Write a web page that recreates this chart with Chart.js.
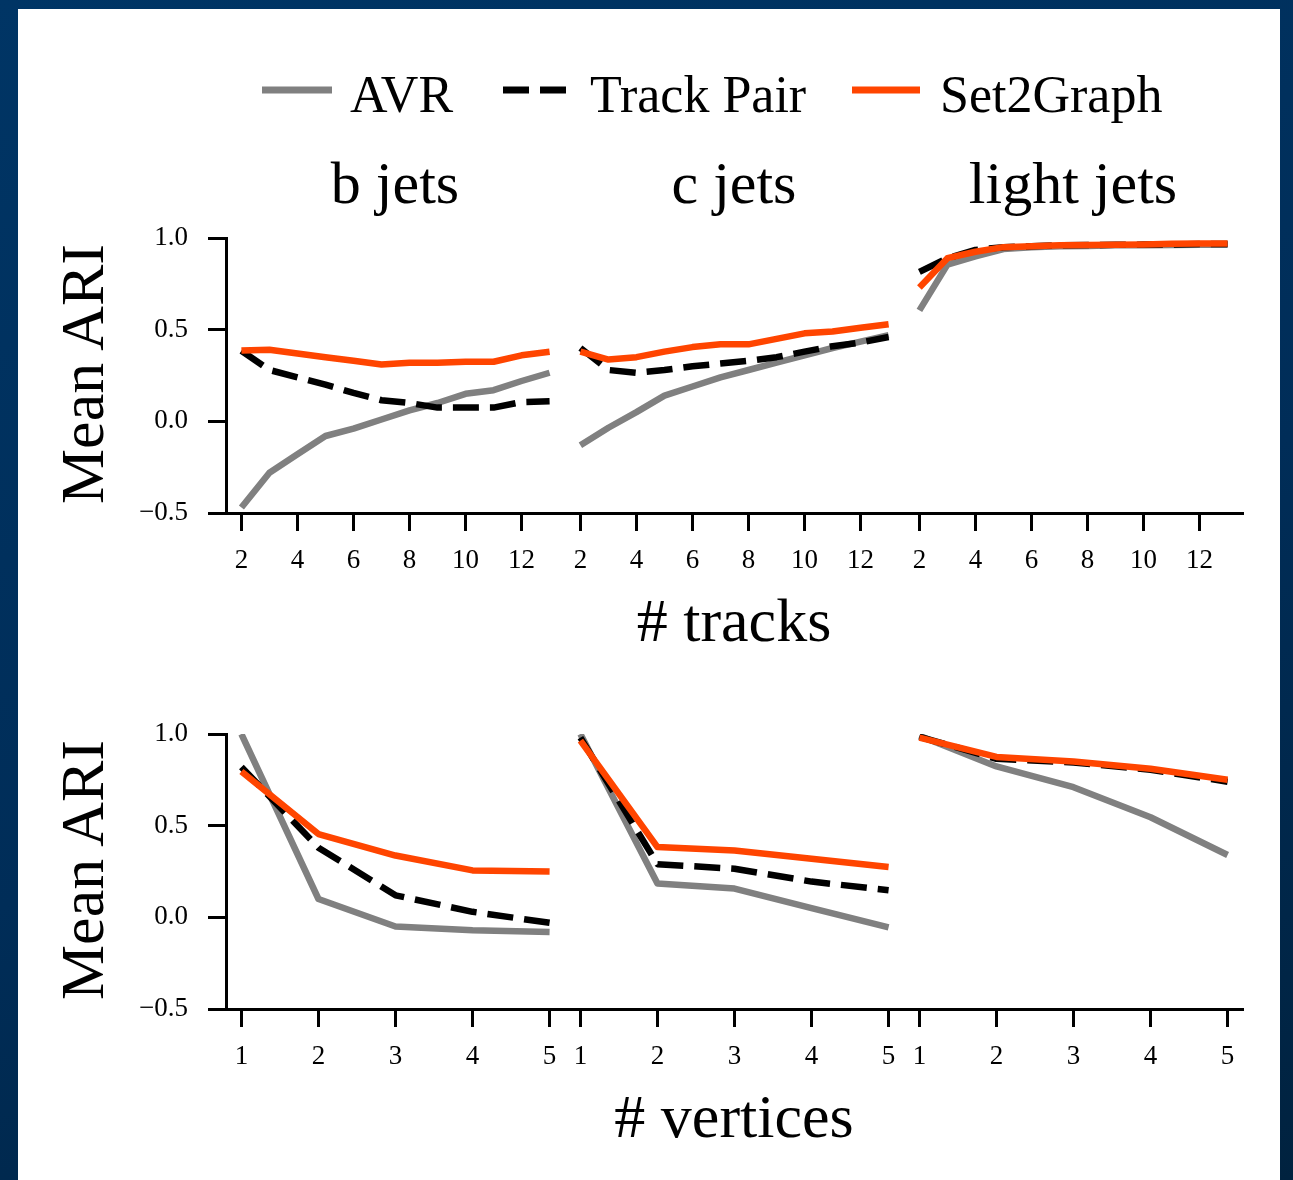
<!DOCTYPE html>
<html>
<head>
<meta charset="utf-8">
<script src="https://cdn.jsdelivr.net/npm/chart.js@4.4.1/dist/chart.umd.min.js"></script>
<style>
  html, body { margin: 0; padding: 0; }
  body {
    width: 1293px; height: 1180px; overflow: hidden; position: relative;
    background: linear-gradient(160deg, #003565 0%, #002d58 55%, #00223f 100%);
  }
  #sheet { position: absolute; left: 18px; top: 9px; width: 1262px; height: 1180px; background: #fff; }
  canvas { position: absolute; }
  #labels { position: absolute; left: 0; top: 0; }
  #labels text { font-family: 'Liberation Serif', 'Times New Roman', serif; fill: #000; }
</style>
</head>
<body>
<div id="sheet"></div>
<canvas id="tB"></canvas><canvas id="tC"></canvas><canvas id="tL"></canvas>
<canvas id="vB"></canvas><canvas id="vC"></canvas><canvas id="vL"></canvas>

<svg id="labels" width="1293" height="1180">
  <line x1="262" y1="90" x2="332" y2="90" stroke="#808080" stroke-width="7"/>
  <text x="350" y="112" font-size="52">AVR</text>
  <line x1="503" y1="90" x2="567" y2="90" stroke="#000" stroke-width="7" stroke-dasharray="26 11"/>
  <text x="590" y="112" font-size="52">Track Pair</text>
  <line x1="852" y1="90" x2="920" y2="90" stroke="#ff4500" stroke-width="7"/>
  <text x="940" y="112" font-size="52">Set2Graph</text>

  <text x="395" y="203" font-size="60" text-anchor="middle">b jets</text>
  <text x="734" y="203" font-size="60" text-anchor="middle">c jets</text>
  <text x="1073" y="203" font-size="60" text-anchor="middle">light jets</text>

  <text x="734" y="641" font-size="62" text-anchor="middle"># tracks</text>
  <text x="734" y="1137" font-size="62" text-anchor="middle"># vertices</text>
  <text transform="translate(103,374) rotate(-90)" font-size="62" text-anchor="middle">Mean ARI</text>
  <text transform="translate(103,870) rotate(-90)" font-size="62" text-anchor="middle">Mean ARI</text>
</svg>

<script>
// x values and tick positions
const trackCounts = [2, 3, 4, 5, 6, 7, 8, 9, 10, 11, 12, 13];
const vertexCounts = [1, 2, 3, 4, 5];
const trackTicks = [2, 4, 6, 8, 10, 12];
const vertexTicks = [1, 2, 3, 4, 5];
const ariTicks = [-0.5, 0.0, 0.5, 1.0];

// mean ARI vs number of tracks
const avrTracksB  = [-0.47, -0.28, -0.18, -0.08, -0.04, 0.01, 0.06, 0.10, 0.15, 0.17, 0.22, 0.265];
const pairTracksB = [0.385, 0.28, 0.24, 0.20, 0.155, 0.115, 0.10, 0.075, 0.075, 0.075, 0.105, 0.11];
const s2gTracksB  = [0.386, 0.39, 0.37, 0.35, 0.33, 0.31, 0.32, 0.32, 0.325, 0.325, 0.36, 0.38];

const avrTracksC  = [-0.13, -0.035, 0.05, 0.14, 0.19, 0.24, 0.28, 0.32, 0.36, 0.40, 0.435, 0.47];
const pairTracksC = [0.40, 0.28, 0.265, 0.28, 0.30, 0.315, 0.33, 0.35, 0.38, 0.41, 0.43, 0.46];
const s2gTracksC  = [0.38, 0.337, 0.35, 0.38, 0.405, 0.42, 0.42, 0.45, 0.48, 0.49, 0.51, 0.53];

const avrTracksL  = [0.605, 0.855, 0.90, 0.94, 0.95, 0.955, 0.957, 0.96, 0.96, 0.962, 0.963, 0.963];
const pairTracksL = [0.815, 0.89, 0.935, 0.95, 0.955, 0.96, 0.962, 0.963, 0.964, 0.965, 0.967, 0.967];
const s2gTracksL  = [0.73, 0.89, 0.925, 0.95, 0.955, 0.96, 0.962, 0.963, 0.965, 0.968, 0.97, 0.97];

// mean ARI vs number of vertices
const avrVertB  = [1.0, 0.10, -0.05, -0.07, -0.08];
const pairVertB = [0.82, 0.38, 0.12, 0.03, -0.03];
const s2gVertB  = [0.795, 0.454, 0.337, 0.256, 0.25];

const avrVertC  = [1.0, 0.184, 0.157, 0.05, -0.055];
const pairVertC = [0.98, 0.29, 0.265, 0.195, 0.148];
const s2gVertC  = [0.964, 0.383, 0.364, 0.32, 0.275];

const avrVertL  = [0.99, 0.823, 0.71, 0.546, 0.34];
const pairVertL = [0.985, 0.865, 0.845, 0.805, 0.74];
const s2gVertL  = [0.98, 0.875, 0.85, 0.81, 0.75];

const FONT = "'Liberation Serif', 'Times New Roman', serif";
const TICK_SIZE = 27;
const PLOT_W = 339, PLOT_H = 275;
// paddings are kept larger than the room chart.js reserves for edge tick labels,
// so the plot area always sits exactly PAD_TOP / PAD_LEFT inside the canvas
const PAD_TOP = 40, PAD_LEFT = 12, PAD_RIGHT = 6, Y_AXIS_W = 116, X_AXIS_H = 70;
const plotLefts = [226, 565, 904];
const rowTops = [238, 734];

const pts = (xs, ys) => xs.map((x, i) => ({ x: x, y: ys[i] }));

const lineSet = (label, xs, ys, color, dash, order) => ({
  label: label,
  data: pts(xs, ys),
  borderColor: color,
  borderWidth: 6.5,
  borderDash: dash,
  borderCapStyle: 'butt',
  borderJoinStyle: 'round',
  pointRadius: 0,
  tension: 0,
  fill: false,
  order: order
});

const axisStyle = () => ({
  border: { display: true, width: 3, color: '#000' },
  grid: { display: true, drawOnChartArea: false, drawTicks: true, tickLength: 18, tickWidth: 3, tickColor: '#000' }
});

function makePanel(id, row, col, xs, xTicks, xMin, xMax, avr, pair, s2g) {
  const canvas = document.getElementById(id);
  const withY = col === 0;
  const padLeft = withY ? 0 : PAD_LEFT;
  const left = plotLefts[col] - (withY ? Y_AXIS_W : padLeft);
  const width = (withY ? Y_AXIS_W : padLeft) + PLOT_W + PAD_RIGHT;
  const height = PAD_TOP + PLOT_H + X_AXIS_H;
  canvas.width = width;
  canvas.height = height;
  canvas.style.left = left + 'px';
  canvas.style.top = (rowTops[row] - PAD_TOP) + 'px';
  canvas.style.width = width + 'px';
  canvas.style.height = height + 'px';

  const yScale = {
    type: 'linear',
    min: -0.5,
    max: 1.0,
    display: withY,
    ...axisStyle(),
    afterBuildTicks: s => { s.ticks = ariTicks.map(v => ({ value: v })); },
    ticks: {
      padding: 20, color: '#000',
      font: { family: FONT, size: TICK_SIZE },
      callback: v => v.toFixed(1).replace('-', '\u2212')
    }
  };
  if (withY) yScale.afterFit = s => { s.width = Y_AXIS_W; };

  new Chart(canvas, {
    type: 'line',
    data: {
      datasets: [
        lineSet('AVR', xs, avr, '#808080', [], 2),
        lineSet('Track Pair', xs, pair, '#000000', [26, 11], 1),
        lineSet('Set2Graph', xs, s2g, '#ff4500', [], 0)
      ]
    },
    options: {
      responsive: false,
      animation: false,
      devicePixelRatio: 1,
      layout: { padding: { top: PAD_TOP, right: PAD_RIGHT, left: padLeft, bottom: 0 } },
      plugins: { legend: { display: false }, tooltip: { enabled: false }, title: { display: false } },
      scales: {
        x: {
          type: 'linear',
          min: xMin,
          max: xMax,
          ...axisStyle(),
          afterBuildTicks: s => { s.ticks = xTicks.map(v => ({ value: v })); },
          afterFit: s => { s.height = X_AXIS_H; },
          ticks: {
            autoSkip: false, maxRotation: 0, padding: 14, color: '#000',
            font: { family: FONT, size: TICK_SIZE },
            callback: v => String(v)
          }
        },
        y: yScale
      }
    }
  });
}

makePanel('tB', 0, 0, trackCounts, trackTicks, 1.45, 13.55, avrTracksB, pairTracksB, s2gTracksB);
makePanel('tC', 0, 1, trackCounts, trackTicks, 1.45, 13.55, avrTracksC, pairTracksC, s2gTracksC);
makePanel('tL', 0, 2, trackCounts, trackTicks, 1.45, 13.55, avrTracksL, pairTracksL, s2gTracksL);
makePanel('vB', 1, 0, vertexCounts, vertexTicks, 0.8, 5.2, avrVertB, pairVertB, s2gVertB);
makePanel('vC', 1, 1, vertexCounts, vertexTicks, 0.8, 5.2, avrVertC, pairVertC, s2gVertC);
makePanel('vL', 1, 2, vertexCounts, vertexTicks, 0.8, 5.2, avrVertL, pairVertL, s2gVertL);
</script>
</body>
</html>
